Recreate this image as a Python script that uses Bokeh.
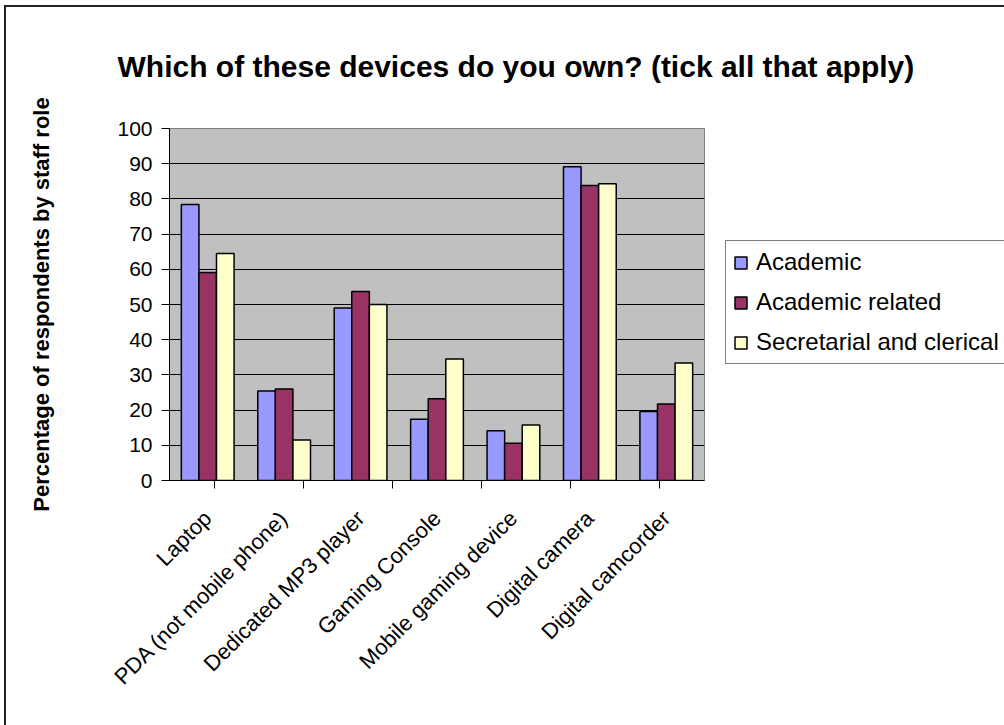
import math
from bokeh.plotting import figure
from bokeh.models import (FactorRange, Range1d, CategoricalAxis, FixedTicker,
                          Legend, LegendItem, ColumnDataSource)
from bokeh.transform import dodge
from bokeh.embed import file_html
from bokeh.resources import INLINE

devices = ["Laptop", "PDA (not mobile phone)", "Dedicated MP3 player", "Gaming Console",
           "Mobile gaming device", "Digital camera", "Digital camcorder"]
academic = [78.4, 25.4, 49.0, 17.4, 14.1, 89.1, 19.6]
academic_related = [59.1, 26.0, 53.7, 23.2, 10.6, 83.8, 21.7]
secretarial = [64.5, 11.5, 50.0, 34.5, 15.8, 84.3, 33.4]
series_names = ["Academic", "Academic related", "Secretarial and clerical"]
series_colors = ["#9999FF", "#993366", "#FFFFCC"]
y_ticks = list(range(0, 101, 10))

title_text = "Which of these devices do you own? (tick all that apply)"
y_label_text = "Percentage of respondents by staff role"

FONT = "Liberation Sans"

src = ColumnDataSource(dict(device=devices, a=academic, r=academic_related, s=secretarial))

p = figure(x_range=FactorRange(*devices, range_padding=0), y_range=Range1d(0, 100),
           frame_width=535, frame_height=352, output_backend="svg", toolbar_location=None,
           title=title_text,
           min_border_left=169, min_border_right=300, min_border_top=128, min_border_bottom=245)

p.border_fill_alpha = 0
p.styles = {"background-color": "white",
            "background-image": "linear-gradient(#222,#222), linear-gradient(#222,#222)",
            "background-size": "2px 100%, 100% 2px",
            "background-position": "4px 5px, 4px 5px",
            "background-repeat": "no-repeat, no-repeat"}

# title
p.title.text_font = FONT
p.title.text_font_size = "30px"
p.title.text_font_style = "bold"
p.title.text_color = "black"
p.title.align = "left"
p.title.offset = -52
p.title.standoff = 91

p.background_fill_color = "#C0C0C0"
p.outline_line_color = "#808080"
p.outline_line_width = 1

p.xgrid.grid_line_color = None
p.ygrid.grid_line_color = "black"
p.ygrid.grid_line_width = 1
p.ygrid.ticker = FixedTicker(ticks=y_ticks)

# y axis
ya = p.yaxis[0]
ya.ticker = FixedTicker(ticks=y_ticks)
ya.axis_line_color = "black"
ya.major_tick_line_color = "black"
ya.major_tick_in = 0
ya.major_tick_out = 8
ya.minor_tick_line_color = None
ya.major_label_standoff = 9
ya.major_label_text_font = FONT
ya.major_label_text_font_size = "21px"
ya.major_label_text_color = "black"
ya.axis_label = y_label_text
ya.axis_label_text_font = FONT
ya.axis_label_text_font_size = "22px"
ya.axis_label_text_font_style = "bold"
ya.axis_label_text_color = "black"
ya.axis_label_standoff = 60

# category axis (labels only)
xa = p.xaxis[0]
xa.axis_line_color = None
xa.major_tick_line_color = None
xa.major_label_orientation = math.pi / 4
xa.major_label_text_font = FONT
xa.major_label_text_font_size = "22px"
xa.major_label_text_color = "black"
xa.major_label_standoff = 20

# boundary tick axis: an extra factor range whose factor centres fall on the category boundaries
boundaries = [f"b{i}" for i in range(len(devices) + 1)]
p.extra_x_ranges = {"ticks": FactorRange(*boundaries, range_padding=-1,
                                         range_padding_units="absolute")}
ta = CategoricalAxis(x_range_name="ticks")
ta.axis_line_color = "black"
ta.major_tick_line_color = "black"
ta.major_tick_in = 0
ta.major_tick_out = 8
ta.minor_tick_line_color = None
ta.major_label_text_font_size = "0px"
ta.major_label_standoff = 0
p.below = [ta] + list(p.below)

bw = 0.23
renderers = []
for col, off, color in zip(["a", "r", "s"], [-bw, 0, bw], series_colors):
    r = p.vbar(x=dodge("device", off, range=p.x_range), top=col, width=bw, source=src,
               fill_color=color, line_color="black", line_width=1.5)
    renderers.append(r)

legend = Legend(items=[LegendItem(label=n, renderers=[r]) for n, r in zip(series_names, renderers)],
                location=(21, 116))
legend.label_text_font = FONT
legend.label_text_font_size = "24px"
legend.label_text_color = "black"
legend.glyph_width = 15
legend.glyph_height = 15
legend.label_standoff = 8
legend.label_height = 27
legend.spacing = 12
legend.padding = 7
legend.margin = 0
legend.border_line_color = "black"
legend.border_line_width = 1
legend.background_fill_color = "white"
legend.background_fill_alpha = 1
p.add_layout(legend, "right")

open("out.html", "w").write(file_html(p, INLINE))
